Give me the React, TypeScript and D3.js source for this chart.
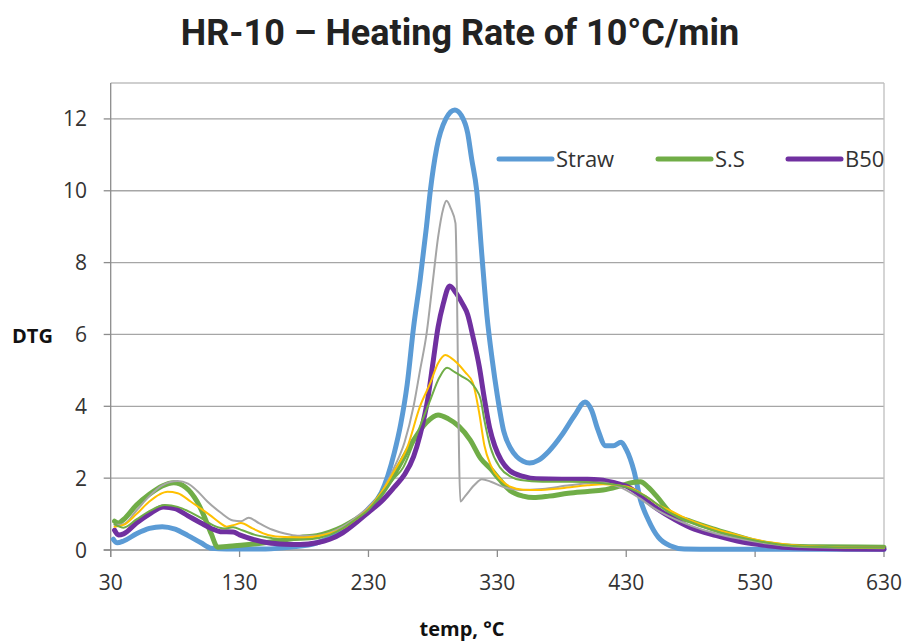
import * as d3 from 'd3';

type Pt = [number, number];

// temp (°C), DTG
const straw: Pt[] = [
  [32, 0.3], [35, 0.2], [40, 0.25], [50, 0.45], [60, 0.6], [70, 0.65], [80, 0.58], [90, 0.4],
  [100, 0.2], [108, 0.05], [120, 0.03], [150, 0.03], [170, 0.08], [190, 0.2], [200, 0.35],
  [210, 0.55], [220, 0.8], [230, 1.15], [240, 1.6], [250, 2.7], [255, 3.5], [260, 4.6],
  [265, 6.2], [270, 7.5], [275, 9.0], [278, 10.0], [283, 11.2], [290, 12.0], [297, 12.25],
  [302, 12.1], [307, 11.6], [310, 10.9], [314, 10.0], [318, 8.2], [322, 6.5], [326, 5.3],
  [330, 4.3], [335, 3.3], [340, 2.85], [345, 2.6], [350, 2.47], [355, 2.42], [362, 2.5],
  [370, 2.75], [380, 3.2], [390, 3.75], [398, 4.12], [403, 3.9], [408, 3.35], [414, 2.9],
  [420, 2.9], [426, 3.0], [430, 2.8], [436, 2.2], [441, 1.4], [447, 0.85], [455, 0.35],
  [464, 0.12], [475, 0.03], [500, 0.02], [630, 0.02],
];

const ss: Pt[] = [
  [33, 0.8], [36, 0.75], [40, 0.85], [50, 1.25], [60, 1.55], [70, 1.78], [79, 1.87], [88, 1.75],
  [97, 1.35], [103, 0.9], [108, 0.45], [113, 0.08], [120, 0.1], [131, 0.13], [145, 0.18],
  [160, 0.25], [177, 0.35], [190, 0.4], [200, 0.5], [210, 0.65], [220, 0.85], [230, 1.1],
  [240, 1.55], [252, 2.23], [265, 3.06], [275, 3.55], [284, 3.76], [292, 3.65], [300, 3.45],
  [309, 3.06], [317, 2.55], [325, 2.25], [332, 1.95], [340, 1.65], [350, 1.5], [358, 1.46],
  [370, 1.5], [385, 1.58], [400, 1.63], [412, 1.67], [425, 1.78], [435, 1.88], [441, 1.9],
  [447, 1.75], [454, 1.48], [464, 1.05], [480, 0.8], [500, 0.56], [515, 0.4], [532, 0.23],
  [552, 0.12], [580, 0.09], [630, 0.08],
];

const b50: Pt[] = [
  [33, 0.55], [36, 0.42], [40, 0.45], [50, 0.75], [60, 1.0], [71, 1.2], [80, 1.15], [90, 0.95],
  [100, 0.75], [108, 0.6], [115, 0.51], [125, 0.5], [130, 0.42], [140, 0.3], [152, 0.2],
  [165, 0.16], [177, 0.15], [190, 0.2], [200, 0.3], [210, 0.48], [220, 0.75], [230, 1.05],
  [240, 1.35], [250, 1.75], [258, 2.1], [265, 2.6], [270, 3.2], [276, 4.2], [280, 5.2],
  [284, 6.2], [288, 6.85], [293, 7.35], [298, 7.15], [303, 6.85], [307, 6.55], [311, 5.95],
  [316, 5.1], [320, 4.2], [324, 3.4], [328, 2.9], [333, 2.5], [340, 2.2], [350, 2.05],
  [360, 1.98], [380, 1.97], [400, 1.97], [410, 1.95], [420, 1.88], [431, 1.76], [440, 1.55],
  [450, 1.25], [464, 0.92], [480, 0.62], [500, 0.4], [520, 0.22], [540, 0.12], [560, 0.06],
  [600, 0.03], [630, 0.02],
];

const thinGray: Pt[] = [
  [33, 0.7], [40, 0.72], [50, 1.1], [60, 1.5], [70, 1.8], [82, 1.92], [90, 1.85], [97, 1.65],
  [105, 1.35], [115, 1.05], [125, 0.82], [131, 0.8], [137, 0.9], [145, 0.75], [155, 0.57],
  [165, 0.46], [175, 0.4], [190, 0.4], [200, 0.48], [210, 0.65], [220, 0.9], [230, 1.2],
  [240, 1.6], [250, 2.3], [258, 3.0], [265, 4.0], [270, 5.0], [275, 6.0], [280, 7.5],
  [284, 8.7], [288, 9.5], [290.5, 9.72], [294, 9.5], [297.5, 9.1], [301.3, 1.35], [305, 1.5],
  [312, 1.8], [318, 1.97], [325, 1.9], [335, 1.75], [348, 1.67], [365, 1.7], [386, 1.8],
  [410, 1.88], [425, 1.75], [440, 1.45], [452, 1.15], [464, 0.92], [480, 0.68], [500, 0.45],
  [520, 0.3], [540, 0.18], [560, 0.1], [600, 0.06], [630, 0.05],
];

const thinOrange: Pt[] = [
  [33, 0.65], [40, 0.7], [50, 1.0], [60, 1.35], [68, 1.55], [74, 1.62], [82, 1.58], [92, 1.35],
  [100, 1.15], [107, 0.97], [115, 0.75], [120, 0.65], [126, 0.7], [131, 0.75], [140, 0.6],
  [152, 0.42], [165, 0.36], [180, 0.35], [195, 0.42], [210, 0.6], [220, 0.85], [230, 1.15],
  [240, 1.6], [250, 2.2], [260, 2.85], [270, 4.0], [278, 4.65], [284, 5.2], [289.7, 5.43],
  [294, 5.35], [299, 5.2], [305, 4.95], [311, 4.65], [316, 3.8], [320, 2.9], [325, 2.35],
  [333, 1.95], [340, 1.76], [350, 1.68], [361, 1.67], [380, 1.72], [400, 1.8], [412, 1.83],
  [431, 1.76], [445, 1.5], [455, 1.25], [464, 1.1], [480, 0.82], [500, 0.57], [520, 0.38],
  [540, 0.22], [560, 0.13], [600, 0.07], [630, 0.06],
];

const thinGreen: Pt[] = [
  [33, 0.72], [40, 0.62], [50, 0.85], [60, 1.08], [72, 1.25], [82, 1.2], [92, 1.05],
  [102, 0.85], [110, 0.68], [118, 0.6], [125, 0.63], [132, 0.55], [142, 0.42], [155, 0.33],
  [170, 0.28], [185, 0.3], [200, 0.42], [210, 0.6], [220, 0.85], [230, 1.12], [240, 1.55],
  [250, 2.0], [257, 2.3], [263, 2.8], [268, 3.26], [278, 4.18], [285, 4.8], [291, 5.07],
  [297, 4.95], [303, 4.82], [309, 4.68], [313, 4.5], [317, 4.2], [320, 3.6], [324.6, 2.87],
  [332, 2.3], [340, 2.05], [348, 1.95], [365, 1.9], [386, 1.9], [412, 1.86], [430, 1.75],
  [445, 1.5], [455, 1.25], [464, 1.03], [480, 0.78], [500, 0.52], [520, 0.34], [540, 0.2],
  [560, 0.11], [600, 0.07], [630, 0.06],
];

const xTicks = [30, 130, 230, 330, 430, 530, 630];
const yTicks = [0, 2, 4, 6, 8, 10, 12];

const series = [
  { name: 'Straw', data: straw, color: '#5B9BD5', width: 5, legend: true },
  { name: 'S.S', data: ss, color: '#70AD47', width: 5, legend: true },
  { name: 'B50', data: b50, color: '#7030A0', width: 5, legend: true },
  { name: 'gray', data: thinGray, color: '#A5A5A5', width: 2, legend: false },
  { name: 'orange', data: thinOrange, color: '#FFC000', width: 2, legend: false },
  { name: 'green', data: thinGreen, color: '#70AD47', width: 2, legend: false },
];

export default function App() {
  const W = 909;
  const H = 643;
  const left = 110.7, right = 884, top = 83, bottom = 550;

  const x = d3.scaleLinear().domain([30, 630]).range([left, right]);
  const y = d3.scaleLinear().domain([0, 13]).range([bottom, top]);

  const line = d3
    .line<Pt>()
    .x(d => x(d[0]))
    .y(d => y(d[1]))
    .curve(d3.curveMonotoneX);

  const tickFont = "'Open Sans', 'Liberation Sans', sans-serif";
  const legendItems = series.filter(s => s.legend);
  const legendX = [499, 658, 788];

  return (
    <svg width={W} height={H} style={{ position: 'absolute', left: 0, top: 0, background: '#fff' }}>
      <text
        x={460}
        y={45}
        textAnchor="middle"
        fontFamily="Roboto, sans-serif"
        fontWeight="bold"
        fontSize={36}
        fill="#222"
      >
        HR-10 – Heating Rate of 10°C/min
      </text>

      {/* grid */}
      {yTicks.filter(t => t > 0).map(t => (
        <line key={t} x1={left} x2={right} y1={y(t)} y2={y(t)} stroke="#A6A6A6" strokeWidth={1.3} />
      ))}
      <line x1={left} x2={right} y1={top} y2={top} stroke="#BFBFBF" strokeWidth={1.3} />
      <line x1={right} x2={right} y1={top} y2={bottom} stroke="#BFBFBF" strokeWidth={1.3} />

      {/* axes */}
      <line x1={left} x2={left} y1={top} y2={bottom + 7} stroke="#8C8C8C" strokeWidth={1.3} />
      <line x1={left - 7} x2={right} y1={bottom} y2={bottom} stroke="#8C8C8C" strokeWidth={1.3} />
      {yTicks.map(t => (
        <g key={t}>
          <line x1={left - 7} x2={left} y1={y(t)} y2={y(t)} stroke="#8C8C8C" strokeWidth={1.3} />
          <text x={87} y={y(t) + 7.5} textAnchor="end" fontFamily={tickFont} fontSize={21} fill="#333">
            {t}
          </text>
        </g>
      ))}
      {xTicks.map(t => (
        <g key={t}>
          <line x1={x(t)} x2={x(t)} y1={bottom} y2={bottom + 7} stroke="#8C8C8C" strokeWidth={1.3} />
          <text x={x(t)} y={590} textAnchor="middle" fontFamily={tickFont} fontSize={21} fill="#333">
            {t}
          </text>
        </g>
      ))}

      {/* curves */}
      {series.map(s => (
        <path
          key={s.name}
          d={line(s.data) ?? ''}
          fill="none"
          stroke={s.color}
          strokeWidth={s.width}
          strokeLinejoin="round"
          strokeLinecap="round"
        />
      ))}

      {/* legend */}
      {legendItems.map((s, i) => (
        <g key={s.name}>
          <line
            x1={legendX[i]}
            x2={legendX[i] + 53}
            y1={159}
            y2={159}
            stroke={s.color}
            strokeWidth={5}
            strokeLinecap="round"
          />
          <text x={legendX[i] + 57} y={167} fontFamily={tickFont} fontSize={22} fill="#333">
            {s.name}
          </text>
        </g>
      ))}

      <text x={12} y={343} fontFamily={tickFont} fontWeight="bold" fontSize={20} fill="#111">
        DTG
      </text>
      <text x={462} y={636} textAnchor="middle" fontFamily={tickFont} fontWeight="bold" fontSize={20} fill="#111">
        temp, °C
      </text>
    </svg>
  );
}
